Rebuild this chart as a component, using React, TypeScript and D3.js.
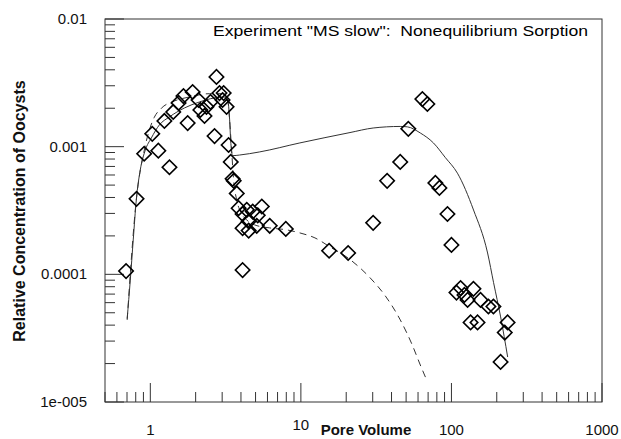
import React from "react";
import * as d3 from "d3";

// Observed data: pore volume vs relative concentration
const obsPV = [0.69, 0.81, 0.91, 1.03, 1.13, 1.24, 1.34, 1.42, 1.54, 1.66, 1.77, 1.91, 2.09, 2.15, 2.29, 2.36, 2.51, 2.67, 2.75, 2.88, 3.07, 3.02, 3.21, 3.31, 3.42, 3.52, 3.58, 3.75, 3.86, 4.1, 4.37, 4.79, 5.17, 5.5, 4.1, 4.5, 5.09, 4.5, 6.21, 7.94, 4.1, 15.4, 20.6, 30.2, 37.4, 45.7, 51.7, 64.1, 69.2, 78.2, 83.2, 94.1, 100, 108, 115, 122, 140, 128, 156, 176, 190, 134, 149, 236, 226, 212];
const obsConc = [1.06e-4, 3.9e-4, 8.8e-4, 1.26e-3, 9.3e-4, 1.59e-3, 6.9e-4, 1.87e-3, 2.2e-3, 2.49e-3, 1.53e-3, 2.68e-3, 2.32e-3, 1.94e-3, 1.74e-3, 2.05e-3, 2.24e-3, 1.21e-3, 3.52e-3, 2.63e-3, 2.63e-3, 2.32e-3, 2.05e-3, 1.03e-3, 7.6e-4, 5.6e-4, 5.4e-4, 4.3e-4, 3.3e-4, 2.97e-4, 3.2e-4, 3.1e-4, 2.9e-4, 3.4e-4, 2.3e-4, 2.2e-4, 2.4e-4, 2.6e-4, 2.4e-4, 2.27e-4, 1.08e-4, 1.53e-4, 1.47e-4, 2.53e-4, 5.4e-4, 7.6e-4, 1.38e-3, 2.36e-3, 2.16e-3, 5.2e-4, 4.75e-4, 2.97e-4, 1.7e-4, 7.2e-5, 7.8e-5, 6.9e-5, 7.7e-5, 6.3e-5, 6.3e-5, 5.6e-5, 5.6e-5, 4.2e-5, 4.2e-5, 4.2e-5, 3.5e-5, 2.06e-5];

// Nonequilibrium model (solid)
const neqPV = [0.702, 0.736, 0.77, 0.807, 0.858, 0.926, 1.016, 1.148, 1.339, 1.685, 2.121, 2.672, 3.066, 3.262, 3.363, 3.415, 3.52, 3.92, 5.33, 9.85, 21.2, 30.2, 45.7, 50.9, 62.1, 75.9, 91.2, 109.6, 140.2, 173.8, 190.5, 212.2, 236.3];
const neqConc = [4.5e-5, 9.0e-5, 1.86e-4, 3.83e-4, 6.6e-4, 9.4e-4, 1.17e-3, 1.48e-3, 1.71e-3, 2.01e-3, 2.24e-3, 2.41e-3, 2.45e-3, 2.32e-3, 1.62e-3, 1.13e-3, 8.5e-4, 8.6e-4, 9.1e-4, 1.07e-3, 1.29e-3, 1.40e-3, 1.44e-3, 1.43e-3, 1.28e-3, 1.07e-3, 8.2e-4, 6.2e-4, 3.19e-4, 1.47e-4, 8.6e-5, 4.64e-5, 2.25e-5];

// Equilibrium model (dashed)
const eqPV = [0.702, 0.807, 0.912, 0.985, 1.063, 1.184, 1.445, 1.819, 2.472, 3.066, 3.262, 3.363, 3.467, 3.575, 3.745, 3.98, 4.365, 4.93, 6.21, 8.06, 9.85, 12.4, 15.6, 20.6, 28.8, 36.3, 45.7, 54.9, 62.1, 67.6];
const eqConc = [4.4e-5, 3.83e-4, 9.4e-4, 1.35e-3, 1.7e-3, 2.0e-3, 2.28e-3, 2.45e-3, 2.6e-3, 2.6e-3, 2.32e-3, 1.62e-3, 9.4e-4, 5.48e-4, 3.83e-4, 3.08e-4, 2.67e-4, 2.44e-4, 2.31e-4, 2.23e-4, 2.11e-4, 1.93e-4, 1.64e-4, 1.34e-4, 9.4e-5, 6.8e-5, 4.4e-5, 2.8e-5, 1.95e-5, 1.54e-5];

const xTickVals = [1, 10, 100, 1000];
const xTickLabels = ["1", "10", "100", "1000"];
const yTickVals = [0.01, 0.001, 0.0001, 0.00001];
const yTickLabels = ["0.01", "0.001", "0.0001", "1e-005"];

const titleText = 'Experiment "MS slow":  Nonequilibrium Sorption';
const xLabel = "Pore Volume";
const yLabel = "Relative Concentration of Oocysts";

export default function App() {
  const W = 621, H = 439;
  const left = 105, right = 602, top = 19, bottom = 402;
  const x = d3.scaleLog().domain([0.5, 1000]).range([left, right]);
  const y = d3.scaleLog().domain([1e-5, 0.01]).range([bottom, top]);

  const line = d3
    .line<[number, number]>()
    .x((d) => x(d[0]))
    .y((d) => y(d[1]))
    .curve(d3.curveMonotoneX);

  const neq: [number, number][] = neqPV.map((v, i) => [v, neqConc[i]]);
  const eq: [number, number][] = eqPV.map((v, i) => [v, eqConc[i]]);

  const xMinor: number[] = [];
  for (let e = -1; e <= 2; e++) {
    for (let m = 1; m <= 9; m++) {
      const v = m * Math.pow(10, e);
      if (v >= 0.5 && v <= 1000 && !xTickVals.includes(v)) xMinor.push(v);
    }
  }
  const yMinor: number[] = [];
  for (let e = -5; e <= -3; e++) {
    for (let m = 2; m <= 9; m++) yMinor.push(m * Math.pow(10, e));
  }

  const diamond = d3.symbol(d3.symbolSquare, 104)() as string;
  const axisColor = "#333";
  const font = "Liberation Sans, Arial, Helvetica, sans-serif";

  return (
    <svg width={W} height={H} style={{ position: "absolute", left: 0, top: 0, background: "#fff" }}>
      <rect x={0} y={0} width={W} height={H} fill="#fff" />
      {/* frame */}
      <rect x={left} y={top} width={right - left} height={bottom - top} fill="none" stroke={axisColor} strokeWidth={1} />
      {/* y ticks */}
      {yTickVals.map((v) => (
        <line key={"ym" + v} x1={left} x2={left + 19} y1={y(v)} y2={y(v)} stroke={axisColor} strokeWidth={1} />
      ))}
      {yMinor.map((v) => (
        <line key={"yn" + v} x1={left} x2={left + 10} y1={y(v)} y2={y(v)} stroke={axisColor} strokeWidth={1} />
      ))}
      {/* x ticks */}
      {xTickVals.map((v) => (
        <line key={"xm" + v} x1={x(v)} x2={x(v)} y1={bottom} y2={bottom - 19} stroke={axisColor} strokeWidth={1} />
      ))}
      {xMinor.map((v) => (
        <line key={"xn" + v} x1={x(v)} x2={x(v)} y1={bottom} y2={bottom - 10} stroke={axisColor} strokeWidth={1} />
      ))}
      {/* tick labels */}
      {yTickVals.map((v, i) => (
        <text key={"yl" + v} x={87} y={y(v) + 5} textAnchor="end" fontFamily={font} fontSize={15} fill="#111">
          {yTickLabels[i]}
        </text>
      ))}
      {xTickVals.map((v, i) => (
        <text key={"xl" + v} x={x(v)} y={i === 1 ? 430 : 435} textAnchor="middle" fontFamily={font} fontSize={15} fill="#111">
          {xTickLabels[i]}
        </text>
      ))}
      {/* axis titles */}
      <text x={366} y={435} textAnchor="middle" fontFamily={font} fontSize={15} fontWeight="bold" fill="#111">
        {xLabel}
      </text>
      <text
        transform={`translate(25,211) rotate(-90)`}
        textAnchor="middle"
        fontFamily={font}
        fontSize={16}
        fontWeight="bold"
        fill="#111"
      >
        {yLabel}
      </text>
      <text
        x={213}
        y={36}
        fontFamily={font}
        fontSize={15}
        fill="#000"
        textLength={375}
        lengthAdjust="spacingAndGlyphs"
        style={{ whiteSpace: "pre" }}
      >
        {titleText}
      </text>
      {/* model curves */}
      <path d={line(eq) as string} fill="none" stroke="#333" strokeWidth={1} strokeDasharray="7,5" />
      <path d={line(neq) as string} fill="none" stroke="#333" strokeWidth={1} />
      {/* observed */}
      {obsPV.map((v, i) => (
        <path
          key={"p" + i}
          d={diamond}
          transform={`translate(${x(v)},${y(obsConc[i])}) rotate(45)`}
          fill="none"
          stroke="#000"
          strokeWidth={1.6}
        />
      ))}
    </svg>
  );
}
